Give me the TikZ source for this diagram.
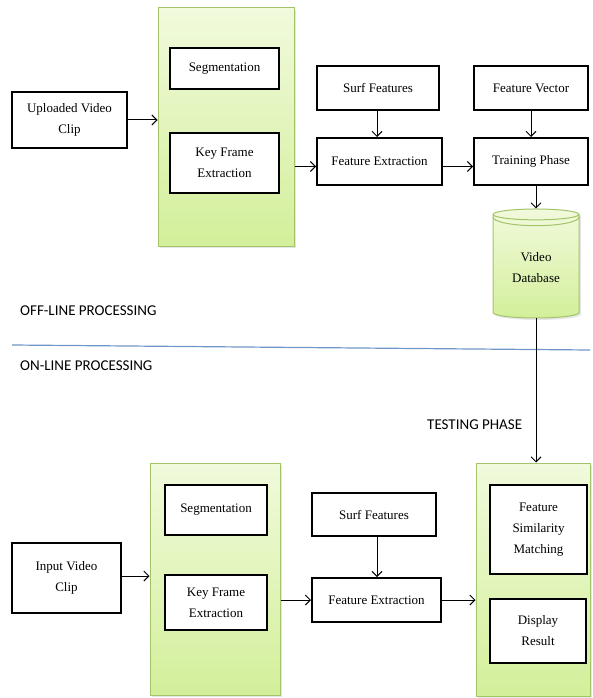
\documentclass[tikz,border=0pt]{standalone}
\usepackage{fontspec}
\setmainfont{Liberation Serif}
\newfontfamily\phasefont{Carlito}
\usetikzlibrary{arrows.meta,shapes.geometric,shadows}
\definecolor{panelTop}{HTML}{F1FADC}
\definecolor{panelBot}{HTML}{D3EF9A}
\definecolor{panelEdge}{HTML}{A4C46A}
\definecolor{sepBlue}{HTML}{6F96C8}
\tikzset{
  box/.style={draw, line width=2pt, fill=white, align=center, inner sep=2pt,
    font=\fontsize{13}{21}\selectfont},
  panel/.style={draw=panelEdge, line width=1pt, top color=panelTop, bottom color=panelBot,
    drop shadow={opacity=0.2, shadow xshift=2pt, shadow yshift=-2pt}},
  flow/.style={-{Straight Barb[length=5pt,width=10pt]}, line width=1pt},
  phase/.style={anchor=west, inner sep=0pt, font=\phasefont\fontsize{15}{17}\selectfont},
}
\begin{document}
\begin{tikzpicture}[x=1pt, y=-1pt]
    \useasboundingbox (0, 0) rectangle (592, 698);
        % off-line part
        \node[panel, minimum width=136pt, minimum height=238pt] (panA) at (226, 127) {};
        \node[box, minimum width=109pt, minimum height=41pt] (segA) at (224.5, 68.5) {Segmentation};
        \node[box, minimum width=109pt, minimum height=60pt] (kfeA) at (224.5, 163) {Key Frame\\Extraction};
        \node[box, minimum width=115pt, minimum height=56pt] (upclip) at (69.5, 120) {Uploaded Video\\Clip};
        \node[box, minimum width=122pt, minimum height=44pt] (surfA) at (378, 88) {Surf Features};
        \node[box, minimum width=125pt, minimum height=47pt] (feA) at (379.5, 161.5) {Feature Extraction};
        \node[box, minimum width=114pt, minimum height=44pt] (fvec) at (531, 88) {Feature Vector};
        \node[box, minimum width=114pt, minimum height=47pt] (train) at (531, 161.5) {Training Phase};
        \node[cylinder, shape border rotate=90, aspect=0.2, panel, align=center,
              minimum width=86pt, minimum height=109pt, font=\fontsize{13}{21}\selectfont] (vdb) at (536, 267.5) {Video\\Database};
        \draw[panelEdge, line width=1pt] ([yshift=-8.6pt]vdb.north) ++(-43pt, 0) arc[start angle=180, end angle=360, x radius=43pt, y radius=8.6pt];
        \draw[flow] (upclip.east) -- (upclip.east -| panA.west);
        \draw[flow] ([yshift=-5pt]feA.west -| panA.east) -- ([yshift=-5pt]feA.west);
        \draw[flow] ([yshift=-5pt]feA.east) -- ([yshift=-5pt]train.west);
        \draw[flow] (surfA.south -| 377, 0) -- (feA.north -| 377, 0);
        \draw[flow] (fvec.south) -- (train.north);
        \draw[flow] (train.south -| vdb.north) -- (vdb.north);
        % separator
        \coordinate (sepL) at (12, 345);
        \coordinate (sepR) at (590, 350);
        \draw[sepBlue, line width=1.2pt] (sepL) -- (sepR);
        \node[phase] (offline) at (20, 311) {OFF-LINE PROCESSING};
        \node[phase] (online) at (20, 366) {ON-LINE PROCESSING};
        \node[phase] (testing) at (427, 425) {TESTING PHASE};
        % on-line part
        \node[panel, minimum width=130pt, minimum height=232pt] (panB) at (215, 579) {};
        \node[box, minimum width=102pt, minimum height=50pt] (segB) at (216, 510) {Segmentation};
        \node[box, minimum width=102pt, minimum height=55pt] (kfeB) at (216, 602.5) {Key Frame\\Extraction};
        \node[box, minimum width=109pt, minimum height=70pt] (inclip) at (66.5, 578) {Input Video\\Clip};
        \node[box, minimum width=124pt, minimum height=43pt] (surfB) at (374, 514.5) {Surf Features};
        \node[box, minimum width=129pt, minimum height=44pt] (feB) at (376.5, 600) {Feature Extraction};
        \node[panel, minimum width=114pt, minimum height=233pt] (panC) at (533, 579.5) {};
        \node[box, minimum width=97pt, minimum height=89pt] (match) at (538.5, 529.5) {Feature\\Similarity\\Matching};
        \node[box, minimum width=96pt, minimum height=64pt] (result) at (538, 631) {Display\\Result};
        \draw[flow] ([yshift=2pt]inclip.east) -- ([yshift=2pt]inclip.east -| panB.west);
        \draw[flow] (feB.west -| panB.east) -- (feB.west);
        \draw[flow] (feB.east) -- (feB.east -| panC.west);
        \draw[flow] (surfB.south -| 377, 0) -- (feB.north -| 377, 0);
        \draw[flow] (vdb.south) -- (vdb.south |- panC.north);
    \end{tikzpicture}
\end{document}
